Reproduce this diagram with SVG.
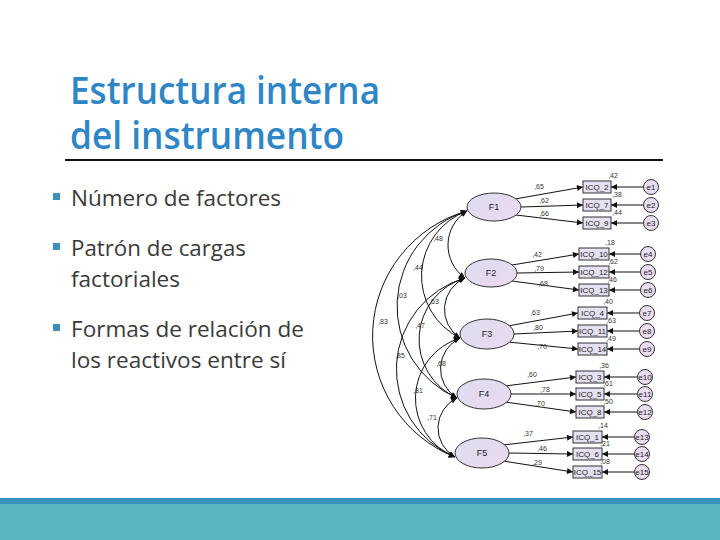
<svg xmlns="http://www.w3.org/2000/svg" width="720" height="540" viewBox="0 0 720 540">
<style>
.title{font-family:"Open Sans","Liberation Sans",sans-serif;font-size:38px;font-weight:600;fill:#2F86C6}
.bul{font-family:"Open Sans","Liberation Sans",sans-serif;font-size:21px;fill:#3A3A3A}
.lat{fill:url(#lg);stroke:#333;stroke-width:1}
.obs{fill:#E6E1F2;stroke:#333;stroke-width:1}
.err{fill:#EADDF2;stroke:#333;stroke-width:1}
.lbl{font-family:"Liberation Sans",Arial,sans-serif;font-size:8px;fill:#222;text-anchor:middle}
.flb{font-family:"Liberation Sans",Arial,sans-serif;font-size:9px;fill:#222;text-anchor:middle}
.num{font-family:"Liberation Sans",Arial,sans-serif;font-size:7px;fill:#333;text-anchor:middle}
.ln{stroke:#111;stroke-width:1;fill:none;marker-end:url(#ah)}
.cv{stroke:#111;stroke-width:1;fill:none;marker-start:url(#ah);marker-end:url(#ah)}
</style>
<defs>
<linearGradient id="lg" x1="0" y1="0" x2="1" y2="1">
<stop offset="0" stop-color="#DCDDF1"/><stop offset="1" stop-color="#ECD9F0"/>
</linearGradient>
<marker id="ah" viewBox="0 0 10 10" refX="10" refY="5" markerWidth="9" markerHeight="6" markerUnits="userSpaceOnUse" orient="auto-start-reverse">
<path d="M0,0 L10,5 L0,10 z" fill="#111"/>
</marker>
</defs>
<rect width="720" height="540" fill="#fff"/>
<g id="title">
<text class="title" x="70" y="104" textLength="310" lengthAdjust="spacingAndGlyphs">Estructura interna</text>
<text class="title" x="70" y="149" textLength="274" lengthAdjust="spacingAndGlyphs">del instrumento</text>
<line x1="65" y1="160" x2="663" y2="160" stroke="#111" stroke-width="2"/>
</g>
<g id="bullets">
<rect x="53" y="193" width="7" height="7" fill="#3E8FBA"/>
<text class="bul" x="71" y="206" textLength="210" lengthAdjust="spacingAndGlyphs">Número de factores</text>
<rect x="53" y="243" width="7" height="7" fill="#3E8FBA"/>
<text class="bul" x="71" y="256" textLength="175" lengthAdjust="spacingAndGlyphs">Patrón de cargas</text>
<text class="bul" x="71" y="287" textLength="109" lengthAdjust="spacingAndGlyphs">factoriales</text>
<rect x="53" y="324" width="7" height="7" fill="#3E8FBA"/>
<text class="bul" x="71" y="337" textLength="233" lengthAdjust="spacingAndGlyphs">Formas de relación de</text>
<text class="bul" x="71" y="368" textLength="215" lengthAdjust="spacingAndGlyphs">los reactivos entre sí</text>
</g>
<g id="connectors">
<path class="cv" d="M467,211 A40.2,40.2 0 0 0 465,278"/>
<path class="cv" d="M465,278 A34.2,34.2 0 0 0 460,338"/>
<path class="cv" d="M460,338 A34.1,34.1 0 0 0 457,398"/>
<path class="cv" d="M457,398 A33.2,33.2 0 0 0 455,457"/>
<path class="cv" d="M467,211 A69.2,69.2 0 0 0 460,338"/>
<path class="cv" d="M465,278 A64.1,64.1 0 0 0 457,398"/>
<path class="cv" d="M460,338 A63.2,63.2 0 0 0 455,457"/>
<path class="cv" d="M467,211 A100,100 0 0 0 457,398"/>
<path class="cv" d="M465,278 A95,95 0 0 0 455,457"/>
<path class="cv" d="M467,211 A130,130 0 0 0 455,457"/>
<path class="ln" d="M515,199 L583,187"/>
<path class="ln" d="M521,207 L583,205"/>
<path class="ln" d="M516,215 L583,223"/>
<path class="ln" d="M512,265 L579,254"/>
<path class="ln" d="M517,273 L579,272"/>
<path class="ln" d="M512,281 L579,290"/>
<path class="ln" d="M508,326 L578,313"/>
<path class="ln" d="M514,334 L578,331"/>
<path class="ln" d="M508,342 L578,349"/>
<path class="ln" d="M505,386 L576,377"/>
<path class="ln" d="M511,394 L576,394"/>
<path class="ln" d="M505,402 L576,412"/>
<path class="ln" d="M503,445 L573,437"/>
<path class="ln" d="M509,453 L573,454"/>
<path class="ln" d="M503,461 L573,472"/>
<path class="ln" d="M643.5,187 L611,187"/>
<path class="ln" d="M643.5,205 L611,205"/>
<path class="ln" d="M643.5,223 L611,223"/>
<path class="ln" d="M640.5,254 L609,254"/>
<path class="ln" d="M640.5,272 L609,272"/>
<path class="ln" d="M640.5,290 L609,290"/>
<path class="ln" d="M639.5,313 L607,313"/>
<path class="ln" d="M639.5,331 L607,331"/>
<path class="ln" d="M639.5,349 L607,349"/>
<path class="ln" d="M637.5,377 L604,377"/>
<path class="ln" d="M637.5,394 L604,394"/>
<path class="ln" d="M637.5,412 L604,412"/>
<path class="ln" d="M634.5,437 L602,437"/>
<path class="ln" d="M634.5,454 L602,454"/>
<path class="ln" d="M634.5,472 L602,472"/>
<text class="num" x="438" y="241">,48</text>
<text class="num" x="434" y="304">,53</text>
<text class="num" x="441" y="366">,68</text>
<text class="num" x="432" y="420">,71</text>
<text class="num" x="418" y="270">,44</text>
<text class="num" x="420" y="328">,47</text>
<text class="num" x="418" y="393">,81</text>
<text class="num" x="402" y="298">,03</text>
<text class="num" x="400" y="358">,85</text>
<text class="num" x="383" y="324">,83</text>
<text class="num" x="539" y="189">,65</text>
<text class="num" x="544" y="203">,62</text>
<text class="num" x="544" y="216">,66</text>
<text class="num" x="537" y="257">,42</text>
<text class="num" x="539" y="271">,79</text>
<text class="num" x="543" y="286">,68</text>
<text class="num" x="535" y="315">,63</text>
<text class="num" x="538" y="330">,80</text>
<text class="num" x="542" y="349">,70</text>
<text class="num" x="532" y="377">,60</text>
<text class="num" x="545" y="392">,78</text>
<text class="num" x="540" y="406">,70</text>
<text class="num" x="528" y="436">,37</text>
<text class="num" x="542" y="451">,46</text>
<text class="num" x="537" y="465">,29</text>
<text class="num" x="613" y="178">,42</text>
<text class="num" x="617" y="197">,38</text>
<text class="num" x="617" y="215">,44</text>
<text class="num" x="610" y="245">,18</text>
<text class="num" x="613" y="264">,62</text>
<text class="num" x="612" y="282">,46</text>
<text class="num" x="608" y="304">,40</text>
<text class="num" x="611" y="323">,63</text>
<text class="num" x="611" y="341">,49</text>
<text class="num" x="604" y="368">,36</text>
<text class="num" x="608" y="386">,61</text>
<text class="num" x="608" y="404">,50</text>
<text class="num" x="603" y="428">,14</text>
<text class="num" x="605" y="446">,21</text>
<text class="num" x="605" y="464">,08</text>
</g>
<g id="F1"><ellipse class="lat" cx="494" cy="207" rx="27" ry="14"/><text class="flb" x="494" y="210">F1</text></g>
<g id="F2"><ellipse class="lat" cx="491" cy="273" rx="26" ry="14"/><text class="flb" x="491" y="276">F2</text></g>
<g id="F3"><ellipse class="lat" cx="487" cy="334" rx="27" ry="15"/><text class="flb" x="487" y="337">F3</text></g>
<g id="F4"><ellipse class="lat" cx="484" cy="394" rx="27" ry="15"/><text class="flb" x="484" y="397">F4</text></g>
<g id="F5"><ellipse class="lat" cx="482" cy="453" rx="27" ry="15"/><text class="flb" x="482" y="456">F5</text></g>
<g id="ICQ_2"><rect class="obs" x="583" y="181" width="28" height="12"/><text class="lbl" x="597" y="190">ICQ_2</text></g>
<g id="ICQ_7"><rect class="obs" x="583" y="199" width="28" height="12"/><text class="lbl" x="597" y="208">ICQ_7</text></g>
<g id="ICQ_9"><rect class="obs" x="583" y="217" width="28" height="12"/><text class="lbl" x="597" y="226">ICQ_9</text></g>
<g id="ICQ_10"><rect class="obs" x="579" y="248" width="30" height="12"/><text class="lbl" x="594" y="257">ICQ_10</text></g>
<g id="ICQ_12"><rect class="obs" x="579" y="266" width="30" height="12"/><text class="lbl" x="594" y="275">ICQ_12</text></g>
<g id="ICQ_13"><rect class="obs" x="579" y="284" width="30" height="12"/><text class="lbl" x="594" y="293">ICQ_13</text></g>
<g id="ICQ_4"><rect class="obs" x="578" y="307" width="29" height="12"/><text class="lbl" x="592.5" y="316">ICQ_4</text></g>
<g id="ICQ_11"><rect class="obs" x="578" y="325" width="29" height="12"/><text class="lbl" x="592.5" y="334">ICQ_11</text></g>
<g id="ICQ_14"><rect class="obs" x="578" y="343" width="29" height="12"/><text class="lbl" x="592.5" y="352">ICQ_14</text></g>
<g id="ICQ_3"><rect class="obs" x="576" y="371" width="28" height="12"/><text class="lbl" x="590" y="380">ICQ_3</text></g>
<g id="ICQ_5"><rect class="obs" x="576" y="388" width="28" height="12"/><text class="lbl" x="590" y="397">ICQ_5</text></g>
<g id="ICQ_8"><rect class="obs" x="576" y="406" width="28" height="12"/><text class="lbl" x="590" y="415">ICQ_8</text></g>
<g id="ICQ_1"><rect class="obs" x="573" y="431" width="29" height="12"/><text class="lbl" x="587.5" y="440">ICQ_1</text></g>
<g id="ICQ_6"><rect class="obs" x="573" y="448" width="29" height="12"/><text class="lbl" x="587.5" y="457">ICQ_6</text></g>
<g id="ICQ_15"><rect class="obs" x="573" y="466" width="29" height="12"/><text class="lbl" x="587.5" y="475">ICQ_15</text></g>
<g id="e1"><circle class="err" cx="651" cy="187" r="7.5"/><text class="lbl" x="651" y="190">e1</text></g>
<g id="e2"><circle class="err" cx="651" cy="205" r="7.5"/><text class="lbl" x="651" y="208">e2</text></g>
<g id="e3"><circle class="err" cx="651" cy="223" r="7.5"/><text class="lbl" x="651" y="226">e3</text></g>
<g id="e4"><circle class="err" cx="648" cy="254" r="7.5"/><text class="lbl" x="648" y="257">e4</text></g>
<g id="e5"><circle class="err" cx="648" cy="272" r="7.5"/><text class="lbl" x="648" y="275">e5</text></g>
<g id="e6"><circle class="err" cx="648" cy="290" r="7.5"/><text class="lbl" x="648" y="293">e6</text></g>
<g id="e7"><circle class="err" cx="647" cy="313" r="7.5"/><text class="lbl" x="647" y="316">e7</text></g>
<g id="e8"><circle class="err" cx="647" cy="331" r="7.5"/><text class="lbl" x="647" y="334">e8</text></g>
<g id="e9"><circle class="err" cx="647" cy="349" r="7.5"/><text class="lbl" x="647" y="352">e9</text></g>
<g id="e10"><circle class="err" cx="645" cy="377" r="7.5"/><text class="lbl" x="645" y="380">e10</text></g>
<g id="e11"><circle class="err" cx="645" cy="394" r="7.5"/><text class="lbl" x="645" y="397">e11</text></g>
<g id="e12"><circle class="err" cx="645" cy="412" r="7.5"/><text class="lbl" x="645" y="415">e12</text></g>
<g id="e13"><circle class="err" cx="642" cy="437" r="7.5"/><text class="lbl" x="642" y="440">e13</text></g>
<g id="e14"><circle class="err" cx="642" cy="454" r="7.5"/><text class="lbl" x="642" y="457">e14</text></g>
<g id="e15"><circle class="err" cx="642" cy="472" r="7.5"/><text class="lbl" x="642" y="475">e15</text></g>
<g id="footer">
<rect x="0" y="498" width="720" height="6" fill="#3892BC"/>
<rect x="0" y="504" width="720" height="36" fill="#5BB5C0"/>
</g>
</svg>
